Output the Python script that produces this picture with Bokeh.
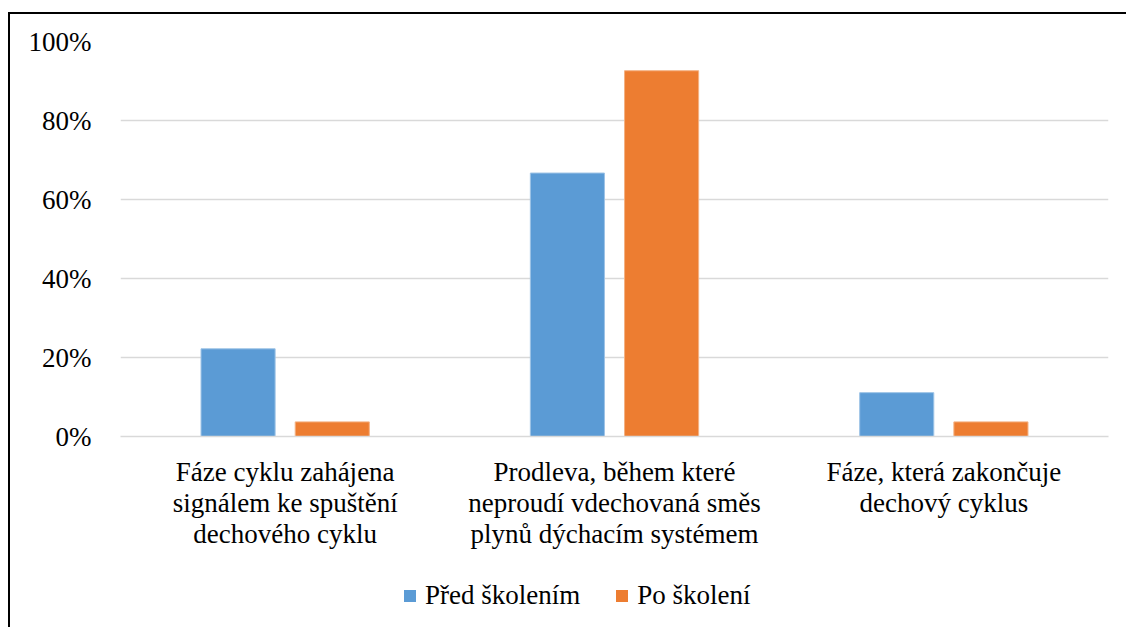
from bokeh.plotting import figure
from bokeh.layouts import column
from bokeh.models import ColumnDataSource, FactorRange, Range1d, NumeralTickFormatter, Legend, LegendItem, FixedTicker
from bokeh.transform import dodge
from bokeh.embed import file_html
from bokeh.resources import INLINE

categories = [
    "Fáze cyklu zahájena\nsignálem ke spuštění\ndechového cyklu",
    "Prodleva, během které\nneproudí vdechovaná směs\nplynů dýchacím systémem",
    "Fáze, která zakončuje\ndechový cyklus",
]
series_names = ["Před školením", "Po školení"]
pred = [0.222, 0.667, 0.111]
po = [0.037, 0.926, 0.037]
y_ticks = [0, 0.2, 0.4, 0.6, 0.8, 1.0]

FONT = "'Liberation Serif'"
BLUE = "#5B9BD5"
ORANGE = "#ED7D31"

src = ColumnDataSource(dict(cat=categories, pred=pred, po=po))
xr = FactorRange(*categories, range_padding=0)

p = figure(
    x_range=xr,
    y_range=Range1d(0, 1.0),
    width=1116, height=556,
    output_backend="svg", toolbar_location=None,
    min_border_left=110, min_border_right=18, min_border_top=27, min_border_bottom=134,
)
p.outline_line_color = None
p.background_fill_color = "white"
p.border_fill_color = "white"

p.vbar(x=dodge("cat", -0.143, range=xr), top="pred", width=0.225, source=src,
       fill_color=BLUE, line_color="#9DC3E6", line_width=1)
p.vbar(x=dodge("cat", 0.143, range=xr), top="po", width=0.225, source=src,
       fill_color=ORANGE, line_color="#F4B183", line_width=1)

p.xgrid.grid_line_color = None
p.ygrid.grid_line_color = "#D9D9D9"
p.ygrid.grid_line_width = 1.5
p.yaxis.ticker = FixedTicker(ticks=y_ticks)
p.yaxis.formatter = NumeralTickFormatter(format="0%")
p.yaxis.axis_line_color = None
p.yaxis.major_tick_line_color = None
p.yaxis.minor_tick_line_color = None
p.yaxis.major_label_standoff = 23
p.yaxis.major_label_text_font = FONT
p.yaxis.major_label_text_font_size = "27px"
p.yaxis.major_label_text_color = "black"

p.xaxis.axis_line_color = "#D9D9D9"
p.xaxis.axis_line_width = 1.5
p.xaxis.major_tick_line_color = None
p.xaxis.minor_tick_line_color = None
p.xaxis.major_label_standoff = 14
p.xaxis.major_label_text_font = FONT
p.xaxis.major_label_text_font_size = "27px"
p.xaxis.major_label_text_line_height = 1.04
p.xaxis.major_label_text_color = "black"

# legend strip below the chart (same series, plotted out of view; only the legend shows)
lg = figure(
    x_range=xr, y_range=Range1d(5, 6),
    width=1116, height=57,
    output_backend="svg", toolbar_location=None,
    min_border=0,
)
lg.axis.visible = False
lg.grid.visible = False
lg.outline_line_color = None
lg.border_fill_color = "white"
g1 = lg.vbar(x=dodge("cat", -0.143, range=xr), top="pred", width=0.225, source=src,
             fill_color=BLUE, line_color=None)
g2 = lg.vbar(x=dodge("cat", 0.143, range=xr), top="po", width=0.225, source=src,
             fill_color=ORANGE, line_color=None)

legend = Legend(
    items=[LegendItem(label=series_names[0], renderers=[g1], index=0),
           LegendItem(label=series_names[1], renderers=[g2], index=0)],
    orientation="horizontal",
    location=(282, 16),
    label_text_font=FONT,
    label_text_font_size="27px",
    label_text_color="black",
    glyph_width=15, glyph_height=15,
    label_standoff=8,
    spacing=34,
    padding=4,
    margin=0,
    border_line_color=None,
    background_fill_alpha=0,
)
lg.add_layout(legend, "center")

layout = column(p, lg, spacing=0)
layout.styles = {"border-top": "2px solid black", "border-left": "2px solid black",
                 "margin-left": "8px", "margin-top": "12px"}

open("out.html", "w").write(file_html(layout, INLINE))
